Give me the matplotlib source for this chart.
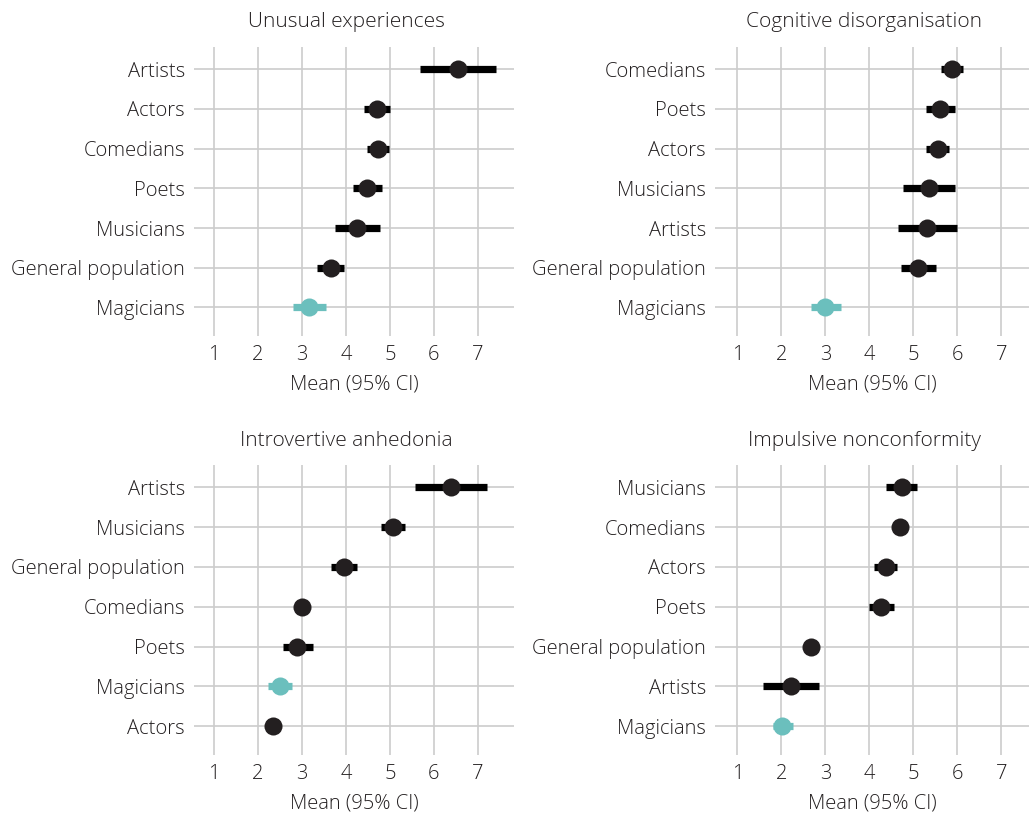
import matplotlib.pyplot as plt

plt.rcParams['font.family'] = ['Open Sans', 'DejaVu Sans']
plt.rcParams['font.weight'] = 'light'
plt.rcParams['axes.labelweight'] = 'light'

# panel titles
titles = ['Unusual experiences', 'Cognitive disorganisation',
          'Introvertive anhedonia', 'Impulsive nonconformity']

# groups, top to bottom, with mean and 95% CI
ue_groups = ['Artists', 'Actors', 'Comedians', 'Poets', 'Musicians', 'General population', 'Magicians']
ue_mean = [6.55, 4.71, 4.72, 4.48, 4.26, 3.66, 3.17]
ue_lo = [5.68, 4.41, 4.47, 4.17, 3.75, 3.35, 2.80]
ue_hi = [7.42, 5.00, 4.98, 4.81, 4.77, 3.96, 3.55]

cd_groups = ['Comedians', 'Poets', 'Actors', 'Musicians', 'Artists', 'General population', 'Magicians']
cd_mean = [5.87, 5.61, 5.55, 5.36, 5.32, 5.10, 3.00]
cd_lo = [5.63, 5.28, 5.28, 4.77, 4.66, 4.72, 2.68]
cd_hi = [6.12, 5.95, 5.82, 5.95, 6.00, 5.51, 3.35]

ia_groups = ['Artists', 'Musicians', 'General population', 'Comedians', 'Poets', 'Magicians', 'Actors']
ia_mean = [6.38, 5.06, 3.95, 3.00, 2.89, 2.50, 2.33]
ia_lo = [5.57, 4.79, 3.66, 3.00, 2.56, 2.23, 2.33]
ia_hi = [7.20, 5.34, 4.26, 3.00, 3.26, 2.78, 2.33]

in_groups = ['Musicians', 'Comedians', 'Actors', 'Poets', 'General population', 'Artists', 'Magicians']
in_mean = [4.74, 4.70, 4.37, 4.27, 2.68, 2.22, 2.02]
in_lo = [4.38, 4.70, 4.11, 4.00, 2.68, 1.59, 1.80]
in_hi = [5.09, 4.70, 4.62, 4.55, 2.68, 2.86, 2.27]

panels = [
    (ue_groups, ue_mean, ue_lo, ue_hi),
    (cd_groups, cd_mean, cd_lo, cd_hi),
    (ia_groups, ia_mean, ia_lo, ia_hi),
    (in_groups, in_mean, in_lo, in_hi),
]

W, H = 1029, 814
# axes boxes in pixels: left, top, right, bottom
boxes = [(194, 47, 514, 336), (715, 47, 1029, 336),
         (194, 465, 514, 755), (715, 465, 1029, 755)]
xlims = [(0.545, 7.82), (0.49, 7.63), (0.545, 7.82), (0.49, 7.63)]
title_x = [346, 864, 346, 864]
title_y = [22, 22, 441, 441]

text_col = '#231f20'
grid_col = '#cccccc'
teal = '#6bbfbd'

fig = plt.figure(figsize=(W / 100, H / 100), dpi=100)

for i, (groups, mean, lo, hi) in enumerate(panels):
    l, t, r, b = boxes[i]
    ax = fig.add_axes([l / W, 1 - b / H, (r - l) / W, (b - t) / H])
    ypos = list(range(len(groups)))
    for y, g, m, a, c in zip(ypos, groups, mean, lo, hi):
        col = teal if g == 'Magicians' else '#000000'
        pcol = teal if g == 'Magicians' else text_col
        ax.plot([a, c], [y, y], color=col, lw=5.2, solid_capstyle='butt', zorder=3)
        ax.plot(m, y, 'o', color=pcol, ms=13, mec='none', zorder=4)
    ax.set_xlim(*xlims[i])
    ax.set_ylim(6.72, -0.56)
    ax.set_xticks(range(1, 8))
    ax.set_yticks(ypos)
    ax.set_yticklabels(groups)
    ax.grid(True, color=grid_col, lw=1.2)
    ax.set_axisbelow(True)
    for s in ax.spines.values():
        s.set_visible(False)
    ax.tick_params(length=0, labelsize=14.5, labelcolor=text_col, pad=6.5)
    ax.set_xlabel('Mean (95% CI)', fontsize=14.5, color=text_col, labelpad=7)
    fig.text(title_x[i] / W, 1 - title_y[i] / H, titles[i], ha='center', va='center',
             fontsize=15, color=text_col)

fig.savefig('out.png', dpi=100)
plt.close(fig)
